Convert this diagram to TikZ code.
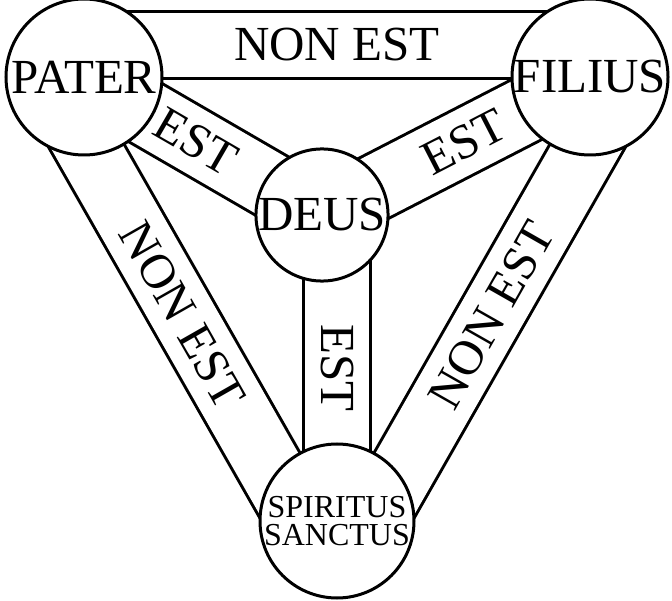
\documentclass[tikz,border=0pt]{standalone}
\usepackage{fontspec}
\setmainfont{Liberation Serif}
\usetikzlibrary{calc}
\begin{document}
\begin{tikzpicture}[x=1pt,y=1pt,
  bandout/.style={line width=70pt,black},
  bandin/.style={line width=64pt,white},
  circ/.style={circle,draw,line width=3pt,fill=white,inner sep=0pt},
  lab/.style={font=\fontsize{49}{49}\selectfont},
  small/.style={font=\fontsize{32}{32}\selectfont,align=center}]
\useasboundingbox (0,0) rectangle (672,600);
\coordinate (P) at (84,523);
\coordinate (F) at (590,523);
\coordinate (D) at (322,385);
\coordinate (S) at (337,79);
\coordinate (P1) at ($(P)!32pt!90:(F)$);
\coordinate (F1) at ($(F)!32pt!-90:(P)$);
\coordinate (F2) at ($(F)!32pt!90:(S)$);
\coordinate (S2) at ($(S)!32pt!-90:(F)$);
\coordinate (S3) at ($(S)!32pt!90:(P)$);
\coordinate (P3) at ($(P)!32pt!-90:(S)$);
\coordinate (D4) at (337,385);
\foreach \a/\b in {P1/F1,F2/S2,S3/P3,P/D,D/F,D4/S}{
  \draw[bandout] (\a) -- (\b);
  \draw[bandin] (\a) -- (\b);}
\path (P1) -- (F1) node[midway,lab]{NON EST};
\path (P3) -- (S3) node[midway,sloped,lab]{NON EST};
\path (S2) -- (F2) node[midway,sloped,lab]{NON EST};
\path (P) -- (D) node[pos=0.47,sloped,lab]{EST};
\path (D) -- (F) node[pos=0.53,sloped,lab]{EST};
\path (D4) -- (S) node[midway,sloped,lab]{EST};
\node[circ,minimum size=156pt,lab] (pater) at (P) {PATER};
\node[circ,minimum size=156pt,lab] (filius) at (F) {FILIUS};
\node[circ,minimum size=132pt,lab] (deus) at (D) {DEUS};
\node[circ,minimum size=154pt,small] (spir) at (S) {SPIRITUS\\[-4pt]SANCTUS};
\end{tikzpicture}
\end{document}
